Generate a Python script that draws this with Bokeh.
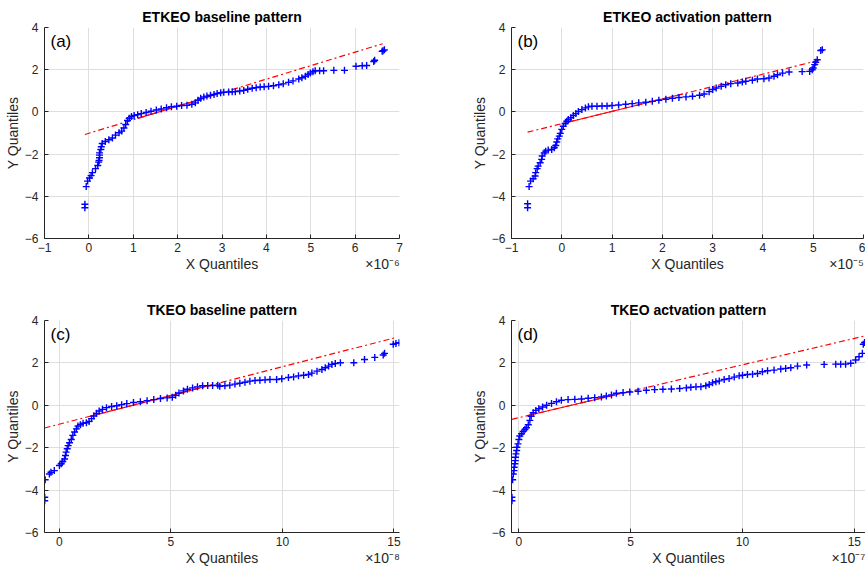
from bokeh.plotting import figure
from bokeh.layouts import column, row
from bokeh.models import Label, FixedTicker, Range1d, LinearAxis
from bokeh.embed import file_html
from bokeh.resources import INLINE

# ---------------- data ----------------
titles = ["ETKEO baseline pattern", "ETKEO activation pattern",
          "TKEO baseline pattern", "TKEO actvation pattern"]
tags = ["(a)", "(b)", "(c)", "(d)"]
multipliers = ["\u00d710\u207b\u2076", "\u00d710\u207b\u2075", "\u00d710\u207b\u2078", "\u00d710\u207b\u2077"]
y_ticks = [-6, -4, -2, 0, 2, 4]

a_x = [-0.09, -0.09, -0.06, -0.03, 0.015, 0.05, 0.08, 0.15, 0.2, 0.22, 0.23, 0.24, 0.24, 0.24, 0.27, 0.28,
       0.30, 0.37, 0.45, 0.53, 0.60, 0.68, 0.74, 0.79, 0.83, 0.87, 0.91, 0.96, 1.02, 1.10, 1.18, 1.29,
       1.40, 1.52, 1.63, 1.75, 1.86, 1.98, 2.09, 2.21, 2.32, 2.40, 2.46, 2.52, 2.59, 2.66, 2.74, 2.82,
       2.89, 2.97, 3.04, 3.15, 3.23, 3.30, 3.40, 3.49, 3.58, 3.68, 3.77, 3.86, 3.95, 4.05, 4.16, 4.28,
       4.38, 4.50, 4.60, 4.73, 4.80, 4.88, 4.94, 4.99, 5.05, 5.10, 5.20, 5.29, 5.52, 5.76, 6.02, 6.16,
       6.26, 6.42, 6.44, 6.61, 6.63, 6.66]
a_y = [-4.54, -4.38, -3.54, -3.28, -3.13, -3.02, -2.88, -2.69, -2.54, -2.38, -2.30, -2.17, -2.05, -1.94, -1.78, -1.65,
       -1.50, -1.40, -1.32, -1.24, -1.10, -0.99, -0.91, -0.76, -0.60, -0.41, -0.30, -0.22, -0.17, -0.13, -0.08, -0.03,
       0.03, 0.09, 0.14, 0.20, 0.25, 0.27, 0.30, 0.31, 0.36, 0.43, 0.55, 0.65, 0.71, 0.75, 0.79, 0.83,
       0.87, 0.91, 0.93, 0.94, 0.95, 0.96, 0.99, 1.02, 1.07, 1.12, 1.15, 1.18, 1.19, 1.21, 1.24, 1.29,
       1.33, 1.40, 1.47, 1.56, 1.62, 1.69, 1.77, 1.84, 1.90, 1.95, 1.95, 1.95, 1.97, 1.97, 2.16, 2.19,
       2.20, 2.39, 2.45, 2.87, 2.90, 2.94]
a_ref_x = [-0.09, 6.62]
a_ref_y = [-1.07, 3.23]
a_quart_x = [1.1, 2.9]

b_x = [-0.68, -0.68, -0.65, -0.62, -0.57, -0.53, -0.52, -0.49, -0.47, -0.43, -0.40, -0.39, -0.35, -0.32, -0.27, -0.20,
       -0.15, -0.12, -0.10, -0.08, -0.05, -0.03, 0.00, 0.03, 0.07, 0.10, 0.13, 0.18, 0.23, 0.28, 0.33, 0.40,
       0.47, 0.53, 0.60, 0.70, 0.80, 0.90, 1.00, 1.13, 1.27, 1.40, 1.53, 1.67, 1.80, 1.93, 2.07, 2.20,
       2.33, 2.47, 2.60, 2.74, 2.83, 2.93, 3.00, 3.07, 3.17, 3.26, 3.36, 3.50, 3.59, 3.66, 3.79, 3.89,
       4.02, 4.12, 4.22, 4.29, 4.39, 4.52, 4.78, 4.93, 4.98, 5.00, 5.03, 5.05, 5.08, 5.15, 5.18]
b_y = [-4.54, -4.35, -3.54, -3.28, -3.17, -3.04, -2.88, -2.69, -2.57, -2.41, -2.25, -2.09, -1.94, -1.86, -1.81, -1.78,
       -1.70, -1.59, -1.43, -1.28, -1.15, -1.02, -0.83, -0.68, -0.55, -0.44, -0.36, -0.28, -0.17, -0.08, 0.02, 0.11,
       0.19, 0.24, 0.27, 0.27, 0.28, 0.28, 0.30, 0.33, 0.36, 0.39, 0.43, 0.46, 0.50, 0.55, 0.60, 0.65,
       0.68, 0.71, 0.74, 0.79, 0.85, 0.96, 1.06, 1.13, 1.21, 1.29, 1.34, 1.37, 1.42, 1.45, 1.50, 1.56,
       1.57, 1.61, 1.69, 1.76, 1.84, 1.89, 1.91, 1.92, 2.00, 2.08, 2.24, 2.35, 2.47, 2.91, 2.94]
b_ref_x = [-0.68, 5.11]
b_ref_y = [-0.96, 2.44]
b_quart_x = [0.1, 2.4]

c_x = [-0.66, -0.66, -0.64, -0.45, -0.38, -0.23, 0.00, 0.08, 0.15, 0.23, 0.27, 0.30, 0.35, 0.39, 0.45, 0.53,
       0.60, 0.68, 0.76, 0.83, 0.94, 1.06, 1.21, 1.33, 1.44, 1.54, 1.66, 1.78, 1.93, 2.11, 2.34, 2.57,
       2.79, 3.02, 3.32, 3.63, 3.93, 4.23, 4.53, 4.83, 5.06, 5.21, 5.36, 5.56, 5.74, 5.97, 6.19, 6.42,
       6.65, 6.87, 7.10, 7.19, 7.42, 7.64, 7.87, 8.09, 8.32, 8.54, 8.77, 8.99, 9.22, 9.44, 9.74, 9.97,
       10.27, 10.50, 10.72, 10.95, 11.17, 11.32, 11.55, 11.77, 11.92, 12.07, 12.22, 12.37, 12.60, 13.20, 13.68, 14.14,
       14.52, 14.58, 14.97, 15.09, 15.23]
c_y = [-4.50, -4.34, -3.51, -3.24, -3.16, -3.08, -2.84, -2.76, -2.65, -2.53, -2.37, -2.21, -2.05, -1.90, -1.77, -1.61,
       -1.42, -1.26, -1.11, -0.98, -0.92, -0.85, -0.82, -0.76, -0.63, -0.51, -0.38, -0.27, -0.19, -0.11, -0.06, -0.02,
       0.03, 0.08, 0.13, 0.17, 0.22, 0.27, 0.32, 0.35, 0.38, 0.47, 0.58, 0.68, 0.76, 0.82, 0.87, 0.92,
       0.93, 0.93, 0.95, 0.90, 0.92, 0.95, 1.00, 1.04, 1.09, 1.14, 1.17, 1.18, 1.20, 1.22, 1.22, 1.25,
       1.31, 1.34, 1.39, 1.42, 1.45, 1.52, 1.61, 1.69, 1.77, 1.85, 1.93, 1.97, 2.01, 2.01, 2.16, 2.26,
       2.37, 2.45, 2.88, 2.92, 2.95]
c_ref_x = [-0.67, 15.1]
c_ref_y = [-1.07, 3.2]
c_quart_x = [1.4, 6.9]

d_x = [-0.31, -0.31, -0.28, -0.25, -0.22, -0.21, -0.18, -0.16, -0.15, -0.13, -0.10, -0.09, -0.04, 0.00, 0.04, 0.12,
       0.19, 0.27, 0.34, 0.42, 0.49, 0.55, 0.64, 0.76, 0.89, 1.06, 1.24, 1.46, 1.68, 1.90, 2.20, 2.50,
       2.80, 3.10, 3.39, 3.69, 3.91, 4.14, 4.36, 4.66, 4.96, 5.33, 5.70, 6.07, 6.44, 6.82, 7.19, 7.49,
       7.69, 7.92, 8.14, 8.36, 8.51, 8.66, 8.81, 8.96, 9.18, 9.40, 9.63, 9.85, 10.00, 10.22, 10.45, 10.67,
       10.89, 11.12, 11.41, 11.71, 11.93, 12.16, 12.46, 12.87, 13.65, 14.17, 14.39, 14.61, 14.84, 15.06, 15.21, 15.36,
       15.40, 15.46]
d_y = [-4.50, -4.34, -3.51, -3.24, -3.08, -2.92, -2.76, -2.61, -2.45, -2.29, -2.13, -1.98, -1.82, -1.61, -1.45, -1.34,
       -1.23, -1.14, -1.06, -0.92, -0.71, -0.52, -0.35, -0.24, -0.16, -0.08, 0.00, 0.09, 0.17, 0.24, 0.27, 0.28,
       0.30, 0.33, 0.36, 0.39, 0.44, 0.49, 0.57, 0.60, 0.63, 0.66, 0.71, 0.74, 0.76, 0.77, 0.79, 0.82,
       0.85, 0.87, 0.88, 0.92, 0.98, 1.06, 1.11, 1.15, 1.22, 1.26, 1.33, 1.39, 1.42, 1.45, 1.47, 1.50,
       1.58, 1.63, 1.66, 1.71, 1.74, 1.77, 1.85, 1.90, 1.93, 1.94, 1.94, 1.94, 1.98, 2.14, 2.29, 2.45,
       2.88, 2.96]
d_ref_x = [-0.31, 15.5]
d_ref_y = [-0.66, 3.28]
d_quart_x = [0.45, 5.0]

x_limits = [(-1, 7), (-1, 6), (-0.67, 15.25), (-0.33, 15.5)]
x_ticks = [[-1, 0, 1, 2, 3, 4, 5, 6, 7], [-1, 0, 1, 2, 3, 4, 5, 6],
           [0, 5, 10, 15], [0, 5, 10, 15]]

# ---------------- styling ----------------
FONT = "Liberation Sans"
TXT = "#262626"
GRID = "#dedede"
H = 286


def line_at(rx, ry, x):
    return ry[0] + (ry[1] - ry[0]) * (x - rx[0]) / (rx[1] - rx[0])


def panel(i, xs, ys, rx, ry, qx, width, bl, br, bt, bb):
    xlim = x_limits[i]
    p = figure(width=width, height=H, x_range=Range1d(*xlim), y_range=Range1d(-6, 4),
               output_backend="svg", toolbar_location=None,
               min_border_left=bl, min_border_right=br, min_border_top=bt, min_border_bottom=bb)
    p.outline_line_color = None
    p.background_fill_color = "white"
    p.border_fill_color = "white"

    p.title.text = titles[i]
    p.title.align = "center"
    p.title.text_font = FONT
    p.title.text_font_size = "14px"
    p.title.text_font_style = "bold"
    p.title.text_color = "black"
    p.title.standoff = 5

    p.xaxis.ticker = FixedTicker(ticks=x_ticks[i])
    p.yaxis.ticker = FixedTicker(ticks=y_ticks)
    for ax in (p.xaxis[0], p.yaxis[0]):
        ax.axis_line_color = TXT
        ax.axis_line_width = 1
        ax.major_tick_line_color = TXT
        ax.major_tick_in = 4
        ax.major_tick_out = 0
        ax.minor_tick_line_color = None
        ax.major_label_text_font = FONT
        ax.major_label_text_font_size = "12px"
        ax.major_label_text_color = TXT
        ax.axis_label_text_font = FONT
        ax.axis_label_text_font_size = "14px"
        ax.axis_label_text_font_style = "normal"
        ax.axis_label_text_color = TXT
    p.yaxis.axis_label = "Y Quantiles"
    p.xaxis.major_label_standoff = 4
    p.yaxis.major_label_standoff = 6
    p.yaxis.axis_label_standoff = 1
    p.xgrid.grid_line_color = GRID
    p.ygrid.grid_line_color = GRID

    # second row under the x axis: axis title and the power-of-ten multiplier
    frame_w = width - bl - br
    unit_px = frame_w / (xlim[1] - xlim[0])
    x_center = (xlim[0] + xlim[1]) / 2
    x_mult = xlim[1] - 17 / unit_px
    ax2 = LinearAxis(ticker=FixedTicker(ticks=[x_center, x_mult]),
                     major_label_overrides={x_center: "X Quantiles", x_mult: multipliers[i]},
                     axis_line_color=None, major_tick_line_color=None, minor_tick_line_color=None,
                     major_tick_in=0, major_tick_out=0, major_label_standoff=1,
                     major_label_text_font=FONT, major_label_text_font_size="14px",
                     major_label_text_color=TXT)
    p.add_layout(ax2, "below")

    # reference line: dash-dot over the full range, solid between quartiles
    p.line(rx, ry, line_color="red", line_width=1.2, line_dash="6 3 2 3")
    p.line(qx, [line_at(rx, ry, qx[0]), line_at(rx, ry, qx[1])], line_color="red", line_width=1.2)

    p.scatter(xs, ys, marker="cross", size=7, line_color="#0000ff", line_width=1.4)

    p.add_layout(Label(x=xlim[0], y=4, x_offset=6, y_offset=-4, text=tags[i],
                       text_font=FONT, text_font_size="17px", text_color="black",
                       text_baseline="top", text_align="left"))
    return p


pa = panel(0, a_x, a_y, a_ref_x, a_ref_y, a_quart_x, 432, 44, 33, 27, 48)
pb = panel(1, b_x, b_y, b_ref_x, b_ref_y, b_quart_x, 433, 79, 2, 27, 48)
pc = panel(2, c_x, c_y, c_ref_x, c_ref_y, c_quart_x, 432, 44, 33, 34, 40)
pd = panel(3, d_x, d_y, d_ref_x, d_ref_y, d_quart_x, 433, 79, 0, 34, 40)

layout = column(row(pa, pb), row(pc, pd))
open("out.html", "w").write(file_html(layout, INLINE))
